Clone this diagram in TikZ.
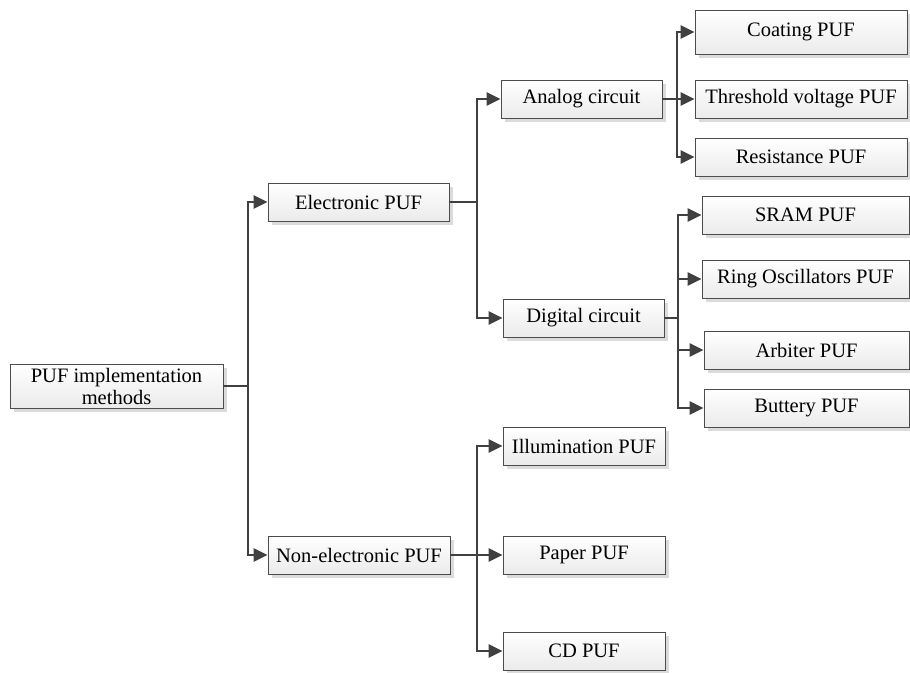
\documentclass[tikz,border=0pt]{standalone}
\usepackage{fontspec}
\setmainfont{Liberation Serif}
\usetikzlibrary{arrows.meta,shadows}

\begin{document}
\begin{tikzpicture}[x=1pt,y=-1pt,
  pufbox/.style ={draw=black!70,line width=0.9pt,top color=white,bottom color=black!8,
                  drop shadow={shadow xshift=4pt,shadow yshift=-4pt,fill=black!14,opacity=1},
                  minimum height=38pt,inner sep=0pt,align=center,
                  font=\fontsize{20.5}{22}\selectfont},
  link/.style   ={draw=black!75,line width=2.8pt},
  arrow/.style  ={link,-{Triangle[length=14pt,width=13pt]}}
]
  \useasboundingbox (0,0) rectangle (910,672);

  % ----- root and first level -----
  \node[pufbox,minimum width=213pt,minimum height=44pt] (root) at (116.5,386) {PUF implementation\\methods};
  \node[pufbox,minimum width=181pt] (elec)  at (358.5,202) {Electronic PUF};
  \node[pufbox,minimum width=182pt] (nonel) at (359,555)   {Non-electronic PUF};

  % ----- electronic branch -----
  \node[pufbox,minimum width=161pt] (analog)  at (581.5,99)  {Analog circuit};
  \node[pufbox,minimum width=161pt] (digital) at (583.5,318) {Digital circuit};

  % analog circuit leaves
  \node[pufbox,minimum width=212pt,minimum height=44pt] (coating) at (801,32) {Coating PUF};
  \node[pufbox,minimum width=212pt] (thresh) at (801,99)  {Threshold voltage PUF};
  \node[pufbox,minimum width=212pt] (resist) at (801,157) {Resistance PUF};

  % digital circuit leaves
  \node[pufbox,minimum width=207pt] (sram)    at (805.5,215) {SRAM PUF};
  \node[pufbox,minimum width=207pt] (ring)    at (805.5,279) {Ring Oscillators PUF};
  \node[pufbox,minimum width=205pt] (arbiter) at (806.5,350) {Arbiter PUF};
  \node[pufbox,minimum width=205pt] (buttery) at (806.5,408) {Buttery PUF};

  % ----- non-electronic leaves -----
  \node[pufbox,minimum width=162pt] (illum) at (584,446) {Illumination PUF};
  \node[pufbox,minimum width=162pt] (paper) at (584,555) {Paper PUF};
  \node[pufbox,minimum width=162pt] (cdpuf) at (584,651) {CD PUF};

  % bus positions
  \coordinate (busA) at (248,0);
  \coordinate (busB) at (477,0);
  \coordinate (busC) at (677,0);
  \coordinate (busD) at (678,0);
  \coordinate (busE) at (477,0);

  % ----- connectors -----
  \draw[arrow] (root.east) -- (root.east -| busA) |- (elec.west);
  \draw[arrow] (root.east) -- (root.east -| busA) |- (nonel.west);

  \draw[arrow] (elec.east) -- (elec.east -| busB) |- (analog.west);
  \draw[arrow] (elec.east) -- (elec.east -| busB) |- (digital.west);

  \draw[arrow] (analog.east) -- (analog.east -| busC) |- (coating.west);
  \draw[arrow] (analog.east) -- (thresh.west);
  \draw[arrow] (analog.east) -- (analog.east -| busC) |- (resist.west);

  \draw[arrow] (digital.east) -- (digital.east -| busD) |- (sram.west);
  \draw[arrow] (digital.east) -- (digital.east -| busD) |- (ring.west);
  \draw[arrow] (digital.east) -- (digital.east -| busD) |- (arbiter.west);
  \draw[arrow] (digital.east) -- (digital.east -| busD) |- (buttery.west);

  \draw[arrow] (nonel.east) -- (nonel.east -| busE) |- (illum.west);
  \draw[arrow] (nonel.east) -- (paper.west);
  \draw[arrow] (nonel.east) -- (nonel.east -| busE) |- (cdpuf.west);
\end{tikzpicture}
\end{document}
